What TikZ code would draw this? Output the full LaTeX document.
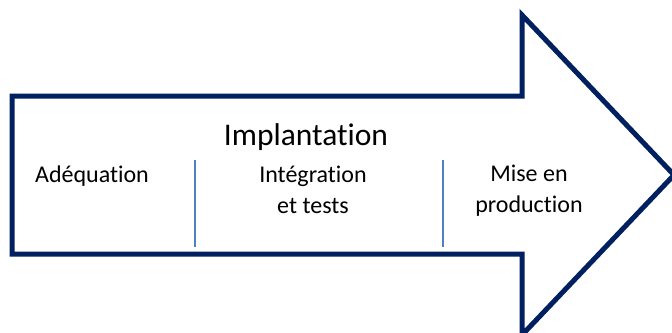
\documentclass[tikz,border=0pt]{standalone}
\usepackage{fontspec}
\setmainfont[Ligatures={NoCommon,NoDiscretionary,NoContextual}]{Carlito}
\definecolor{navy}{RGB}{0,32,96}
\definecolor{sepblue}{RGB}{79,129,189}
\begin{document}
\begin{tikzpicture}[x=1pt,y=-1pt,
  title/.style={font=\fontsize{31.5}{36}\selectfont, anchor=base, inner sep=0pt},
  phase/.style={font=\fontsize{24}{30.5}\selectfont, anchor=base, align=center, inner sep=0pt},
  sep/.style={draw=sepblue, line width=1.5pt}]
\useasboundingbox (0,0) rectangle (672,332);
\draw[navy, line width=5pt, line join=miter, fill=white]
  (12,96) -- (522,96) -- (522,15) -- (674,175) -- (522,335) -- (522,254) -- (12,254) -- cycle;
\node[title] (impl) at (306,145) {Implantation};
\node[phase] (adeq) at (92,182) {Adéquation};
\node[phase] (integ) at (313,213) {Intégration\\et tests};
\node[phase] (mise) at (529,212) {Mise en\\production};
\draw[sep] (195,160) -- (195,247);
\draw[sep] (443,160) -- (443,247);
\end{tikzpicture}
\end{document}
